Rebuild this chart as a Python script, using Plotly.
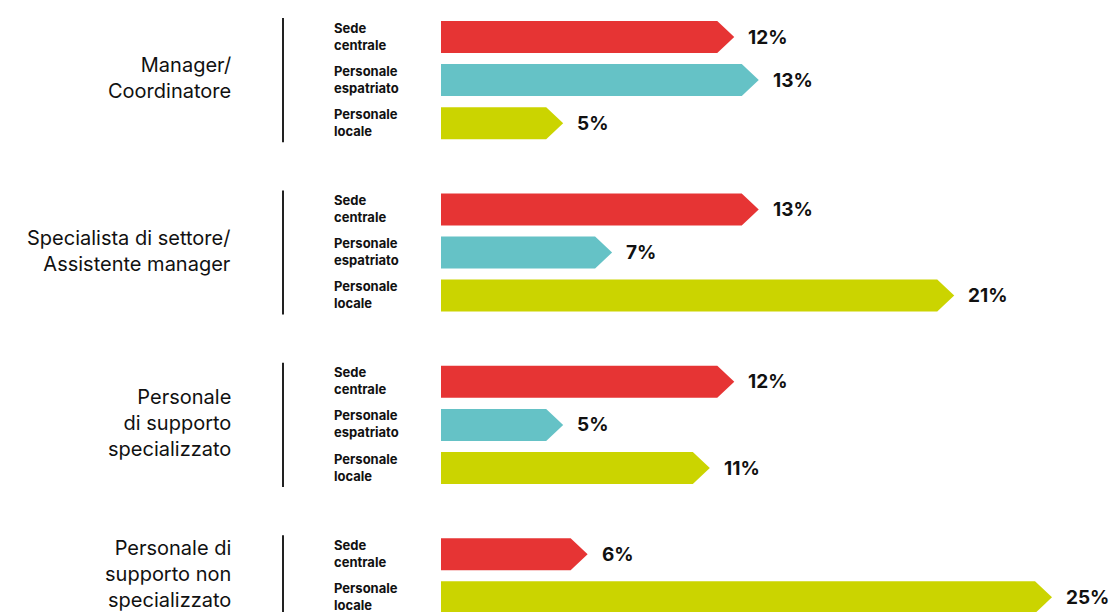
import plotly.graph_objects as go

# categorie (gruppi professionali)
groups = [
    "Manager/<br>Coordinatore",
    "Specialista di settore/<br>Assistente manager",
    "Personale<br>di supporto<br>specializzato",
    "Personale di<br>supporto non<br>specializzato",
]
series_names = ["Sede<br>centrale", "Personale<br>espatriato", "Personale<br>locale"]
series_colors = ["#E63434", "#65C2C6", "#CBD400"]

sede_centrale = [12, 13, 12, 6]
personale_espatriato = [13, 7, 5, None]
personale_locale = [5, 21, 11, 25]

series_values = [sede_centrale, personale_espatriato, personale_locale]

PX_PER_X = 24.44   # pixel per 1%
PX_PER_ROW = 43.1  # pixel per riga
W, H = 1109, 612
X0_PX = 441        # inizio barre
ROW0_PX = 37       # centro prima riga

half_h = 16 / PX_PER_ROW
tip = 17 / PX_PER_X

fig = go.Figure()

row = 0
for g, label in enumerate(groups):
    rows_in_group = []
    for s, vals in enumerate(series_values):
        v = vals[g]
        if v is None:
            continue
        r = row
        rows_in_group.append(r)
        # freccia
        fig.add_trace(go.Scatter(
            x=[0, v - tip, v, v - tip, 0, 0],
            y=[r - half_h, r - half_h, r, r + half_h, r + half_h, r - half_h],
            mode="lines", fill="toself",
            fillcolor=series_colors[s], line=dict(width=0),
            hoverinfo="skip", showlegend=False,
        ))
        # valore
        fig.add_annotation(
            x=v, y=r, text=f"<b>{v}%</b>", showarrow=False,
            xanchor="left", xshift=12, yanchor="middle",
            font=dict(family="Inter", size=19, color="#111"),
        )
        # etichetta serie
        fig.add_annotation(
            x=(333 - X0_PX) / PX_PER_X, y=r, text=f"<b>{series_names[s]}</b>",
            showarrow=False, xanchor="left", yanchor="middle", align="left",
            borderpad=0, yshift=1,
            font=dict(family="Inter", size=13, color="#111"),
        )
        row += 1
    # etichetta gruppo
    mid = (rows_in_group[0] + rows_in_group[-1]) / 2
    fig.add_annotation(
        x=(233 - X0_PX) / PX_PER_X, y=mid, text=label, showarrow=False,
        xanchor="right", yanchor="middle", align="right", yshift=2,
        font=dict(family="Inter", size=20, color="#111"),
    )
    # separatore verticale
    sep_x = (283 - X0_PX) / PX_PER_X
    fig.add_shape(
        type="line", xref="x", yref="y",
        x0=sep_x, x1=sep_x,
        y0=rows_in_group[0] - half_h - 3 / PX_PER_ROW,
        y1=rows_in_group[-1] + half_h + 3 / PX_PER_ROW,
        line=dict(color="#222", width=2),
    )
    row += 1

fig.update_layout(
    width=W, height=H,
    margin=dict(l=0, r=0, t=0, b=0),
    paper_bgcolor="white", plot_bgcolor="white",
    xaxis=dict(range=[-X0_PX / PX_PER_X, (W - X0_PX) / PX_PER_X],
               visible=False, fixedrange=True),
    yaxis=dict(range=[(H - ROW0_PX) / PX_PER_ROW, -ROW0_PX / PX_PER_ROW],
               visible=False, fixedrange=True),
    showlegend=False,
)

fig.write_html(
    "out.html",
    config={"displayModeBar": False},
    post_script="document.body.style.margin='0';document.body.style.overflow='hidden';",
)
